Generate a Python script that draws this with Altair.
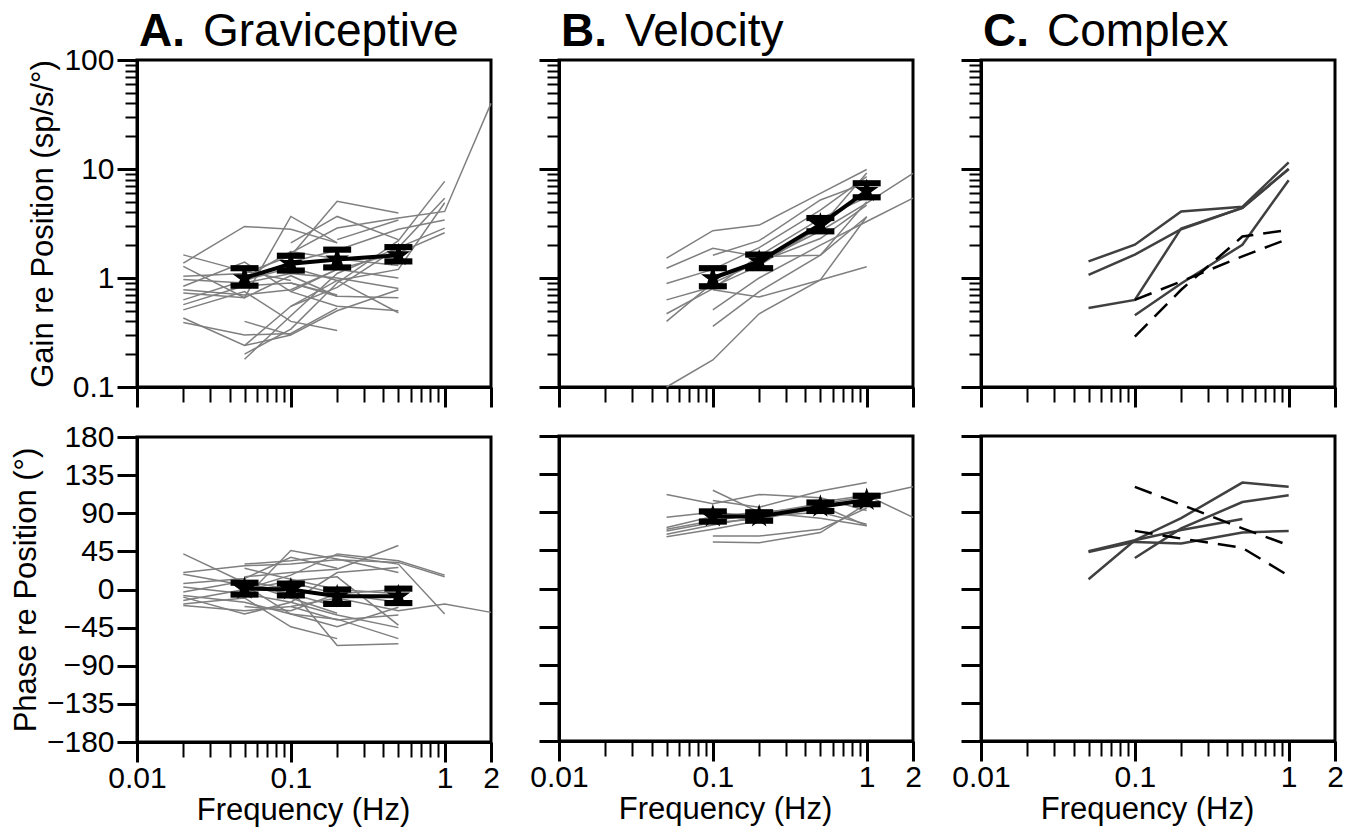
import altair as alt
import pandas as pd

# ---------------- data ----------------
FREQS_A = [0.02, 0.05, 0.1, 0.2, 0.5, 1, 2]
A_GAIN = [
    [1.63, 1.15, 0.95, None, None, None, None],
    [1.37, 2.97, 2.8, 2.1, None, None, None],
    [1.28, 0.66, 3.67, 2.1, None, None, None],
    [1.04, 1.1, 1.6, 5.05, 3.94, None, None],
    [0.97, 0.9, 1.1, 1.0, 0.8, None, None],
    [0.84, 1.4, 0.75, 0.55, 0.5, None, None],
    [0.78, 0.7, 0.78, 1.2, 1.7, 2.6, None],
    [0.73, 0.66, 1.05, 0.68, None, None, None],
    [0.63, 0.95, 1.25, 0.95, 0.48, None, None],
    [0.57, 0.85, 0.9, 0.7, None, None, None],
    [0.51, 0.75, 0.4, 0.33, None, None, None],
    [0.43, 0.24, 0.3, None, None, None, None],
    [0.39, 0.3, 0.31, 0.53, None, None, None],
    [None, 0.18, 0.45, 1.1, 1.9, 5.4, None],
    [None, 0.2, 0.34, 0.9, 2.2, 7.7, None],
    [None, 0.24, 0.55, 0.95, 1.2, 4.9, None],
    [None, 0.4, 0.3, 0.5, 0.78, None, None],
    [None, None, 1.7, 2.87, 3.55, 4.08, 40],
    [None, None, 2.1, 3.67, 2.25, None, None],
    [None, None, 0.9, 0.68, 0.66, None, None],
    [None, None, 1.4, 1.8, 2.8, 3.4, None],
    [None, None, 0.55, 0.82, 1.9, 2.87, None],
    [None, None, 0.75, 1.2, 1.0, None, None],
    [None, 1.0, 1.75, 1.5, 1.3, None, None],
    [None, None, None, 2.25, 3.4, None, None],
]
A_PHASE = [
    [42, 8, -10, -28, None, None, None],
    [20, 28, 30, 35, 32, 15, None],
    [18, 5, -5, -20, None, None, None],
    [7, 13, 38, 25, None, None, None],
    [3, -5, -15, -30, -45, None, None],
    [-3, 10, 0, -66, -64, None, None],
    [-7, -15, -29, -35, -58, None, None],
    [-9, -29, -15, 20, 26, None, None],
    [-13, 0, 17, 42, 34, 17, None],
    [-17, -10, -44, -58, None, None, None],
    [-19, -25, -20, -10, -25, -17, -27],
    [None, 30, 34, 40, 30, -29, None],
    [None, -10, 46, 36, 20, None, None],
    [None, 5, -29, -44, -21, None, None],
    [None, 0, 10, 15, -42, None, None],
    [None, 15, 20, 24, 52, None, None],
    [None, None, -20, -36, -30, None, None],
    [None, None, 8, -5, -15, None, None],
    [None, -20, -25, -5, 0, None, None],
    [None, 25, 12, 0, -5, None, None],
]
A_MEAN_FREQ = [0.05, 0.1, 0.2, 0.5]
A_GAIN_MEAN = [1.0, 1.35, 1.48, 1.62]
A_GAIN_LO = [0.85, 1.17, 1.25, 1.42]
A_GAIN_HI = [1.23, 1.6, 1.82, 1.92]
A_PHASE_MEAN = [1, 0, -8, -8]
A_PHASE_LO = [-6, -7, -17, -16]
A_PHASE_HI = [8, 7, 0, 1]

FREQS_B = [0.05, 0.1, 0.2, 0.5, 1, 2]
B_GAIN = [
    [1.52, 2.72, 3.06, 5.98, 9.9, None],
    [1.23, 1.87, 1.57, 1.62, 3.65, None],
    [0.89, 1.2, 1.9, 4.2, 8.5, None],
    [0.63, 0.83, 1.3, 2.96, 9.2, None],
    [0.47, 0.8, 1.6, 3.5, 5.5, None],
    [0.40, 0.9, 1.4, 2.3, 4.67, None],
    [0.1, 0.177, 0.47, 0.96, 3.65, None],
    [None, 0.78, 0.67, 0.96, 1.27, None],
    [None, 0.51, 1.0, 2.0, 3.3, 5.4],
    [None, 0.36, 0.75, 1.62, 5.0, None],
    [None, 1.62, 2.2, 5.2, 7.5, None],
    [None, 1.0, 1.4, 2.7, 4.87, 9.1],
]
B_PHASE = [
    [111, 100, 111, 107, 92, None],
    [84, 90, 85, 90, 76, None],
    [72, 85, 90, 96, 103, None],
    [70, 80, 88, 100, 108, 120],
    [68, 78, 82, 95, 105, None],
    [64, 75, 85, 98, 74, None],
    [61, 70, 80, 102, 110, 84],
    [None, 116, 90, 83, 74, None],
    [None, 62, 62, 70, 95, None],
    [None, 55, 54, 66, 100, None],
    [None, 104, 96, 115, 125, None],
]
B_MEAN_FREQ = [0.1, 0.2, 0.5, 1]
B_GAIN_MEAN = [1.0, 1.42, 3.1, 6.3]
B_GAIN_LO = [0.84, 1.23, 2.68, 5.5]
B_GAIN_HI = [1.23, 1.64, 3.55, 7.4]
B_PHASE_MEAN = [85, 85, 96.5, 104.5]
B_PHASE_LO = [79, 80, 91.5, 99.5]
B_PHASE_HI = [91, 90, 101.5, 109.5]

FREQS_C = [0.05, 0.1, 0.2, 0.5, 1]
C_GAIN_SOLID = [
    [1.42, 2.02, 4.07, 4.5, 11.5],
    [1.07, 1.64, 2.8, 4.4, 10.0],
    [0.53, 0.63, 2.85, 4.4, 10.0],
    [None, 0.455, 0.89, 2.02, 7.9],
]
C_GAIN_DASHED = [
    [None, 0.63, 0.93, 1.58, 2.3],
    [None, 0.29, 0.78, 2.4, 2.77],
]
C_PHASE_SOLID = [
    [11, 57, 83, 125, 120],
    [44, 57, 69, 82, None],
    [43, 55, 53, 66, 68],
    [None, 36, 71, 102, 110],
]
C_PHASE_DASHED = [
    [None, 120, 99, 71, 51],
    [None, 68, 59, 48, 15],
]

TITLES = [("A.", "Graviceptive"), ("B.", "Velocity"), ("C.", "Complex")]

X_MAJOR = [0.01, 0.1, 1, 2]
X_MINOR = [0.02, 0.03, 0.04, 0.05, 0.06, 0.07, 0.08, 0.09,
           0.2, 0.3, 0.4, 0.5, 0.6, 0.7, 0.8, 0.9]
YG_MAJOR = [0.1, 1, 10, 100]
YG_MINOR = [0.2, 0.3, 0.4, 0.5, 0.6, 0.7, 0.8, 0.9,
            2, 3, 4, 5, 6, 7, 8, 9, 20, 30, 40, 50, 60, 70, 80, 90]
YP_MAJOR = [-180, -135, -90, -45, 0, 45, 90, 135, 180]

FONT = "Liberation Sans"
W = 354
H_TOP = 327
H_BOT = 305

# custom symbol paths (unit box -1..1)
STAR = ("M0,-1L0.225,-0.309L0.951,-0.309L0.363,0.118L0.588,0.809L0,0.382"
        "L-0.588,0.809L-0.363,0.118L-0.951,-0.309L-0.225,-0.309Z")
CAP = "M-1,-0.22L1,-0.22L1,0.22L-1,0.22Z"


def lines_df(freqs, rows):
    recs = []
    for i, row in enumerate(rows):
        for f, v in zip(freqs, row):
            if v is not None:
                recs.append({"freq": f, "val": v, "line": i})
    return pd.DataFrame(recs)


def mean_df(freqs, mean, lo, hi):
    return pd.DataFrame({"freq": freqs, "val": mean, "lo": lo, "hi": hi})


XS = alt.Scale(type="log", domain=[0.01, 2], nice=False)
YGS = alt.Scale(type="log", domain=[0.1, 100], nice=False)
YPS = alt.Scale(domain=[-180, 180], nice=False)


def x_major(labels):
    if labels:
        return alt.Axis(orient="bottom", values=X_MAJOR, format="~g", tickSize=20,
                        tickWidth=3, labelFlush=False, labelOverlap=False,
                        labelPadding=1, title="Frequency (Hz)", titleX=166,
                        titlePadding=2)
    return alt.Axis(orient="bottom", values=X_MAJOR, labels=False, tickSize=20,
                    tickWidth=3, title=None)


X_MINOR_AXIS = alt.Axis(orient="bottom", values=X_MINOR, labels=False, tickSize=15,
                        tickWidth=2, domain=False, title=None)


def y_major(gain, labels):
    vals = YG_MAJOR if gain else YP_MAJOR
    title = "Gain re Position (sp/s/°)" if gain else "Phase re Position (°)"
    fmt = "~g" if gain else "d"
    if labels:
        return alt.Axis(orient="left", values=vals, format=fmt, tickSize=20,
                        tickWidth=3, labelOverlap=False, labelFlush=False,
                        labelPadding=3, title=title, titlePadding=4)
    return alt.Axis(orient="left", values=vals, labels=False, tickSize=20,
                    tickWidth=3, title=None)


Y_MINOR_AXIS = alt.Axis(orient="left", values=YG_MINOR, labels=False, tickSize=12,
                        tickWidth=2, domain=False, title=None)


def panel(gain, first_col, bottom, lines, means=None, dashed=None,
          solid_color="#7f7f7f", solid_width=1.5, title=None):
    ys = YGS if gain else YPS
    h = H_TOP if gain else H_BOT
    minor_y = Y_MINOR_AXIS if gain else None
    layers = [alt.Chart(lines).mark_line(
        color=solid_color, strokeWidth=solid_width).encode(
        x=alt.X("freq:Q", scale=XS, axis=x_major(bottom)),
        y=alt.Y("val:Q", scale=ys, axis=y_major(gain, first_col)),
        detail="line:N",
    )]
    if dashed is not None:
        layers.append(alt.Chart(dashed).mark_line(
            color="black", strokeWidth=2.5, strokeDash=[18, 10]).encode(
            x=alt.X("freq:Q", scale=XS, axis=X_MINOR_AXIS),
            y=alt.Y("val:Q", scale=ys, axis=minor_y),
            detail="line:N",
        ))
    if means is not None:
        layers.append(alt.Chart(means).mark_line(color="black", strokeWidth=4).encode(
            x=alt.X("freq:Q", scale=XS, axis=X_MINOR_AXIS),
            y=alt.Y("val:Q", scale=ys, axis=minor_y),
        ))
        layers.append(alt.Chart(means).mark_rule(color="black", strokeWidth=4).encode(
            x=alt.X("freq:Q", scale=XS, axis=None),
            y=alt.Y("lo:Q", scale=ys, axis=None),
            y2="hi:Q",
        ))
        for col in ["lo", "hi"]:
            layers.append(alt.Chart(means).mark_point(
                shape=CAP, filled=True, color="black", size=784, opacity=1,
                strokeWidth=0).encode(
                x=alt.X("freq:Q", scale=XS, axis=None),
                y=alt.Y(f"{col}:Q", scale=ys, axis=None),
            ))
        layers.append(alt.Chart(means).mark_point(
            shape=STAR, filled=True, color="black", size=620, opacity=1,
            strokeWidth=0).encode(
            x=alt.X("freq:Q", scale=XS, axis=None),
            y=alt.Y("val:Q", scale=ys, axis=None),
        ))
    if title is not None:
        tdf = pd.DataFrame({"a": [title[0]], "b": [title[1]]})
        layers.append(alt.Chart(tdf).mark_text(
            align="left", baseline="alphabetic", fontSize=46, fontWeight="bold",
            font=FONT, color="black").encode(
            x=alt.value(2), y=alt.value(-14), text="a:N"))
        layers.append(alt.Chart(tdf).mark_text(
            align="left", baseline="alphabetic", fontSize=46,
            font=FONT, color="black").encode(
            x=alt.value(66), y=alt.value(-14), text="b:N"))
    return alt.layer(*layers).resolve_axis(x="independent", y="independent").properties(
        width=W, height=h)


colA = alt.vconcat(
    panel(True, True, False, lines_df(FREQS_A, A_GAIN),
          means=mean_df(A_MEAN_FREQ, A_GAIN_MEAN, A_GAIN_LO, A_GAIN_HI), title=TITLES[0]),
    panel(False, True, True, lines_df(FREQS_A, A_PHASE),
          means=mean_df(A_MEAN_FREQ, A_PHASE_MEAN, A_PHASE_LO, A_PHASE_HI)),
    spacing=10,
)
colB = alt.vconcat(
    panel(True, False, False, lines_df(FREQS_B, B_GAIN),
          means=mean_df(B_MEAN_FREQ, B_GAIN_MEAN, B_GAIN_LO, B_GAIN_HI), title=TITLES[1]),
    panel(False, False, True, lines_df(FREQS_B, B_PHASE),
          means=mean_df(B_MEAN_FREQ, B_PHASE_MEAN, B_PHASE_LO, B_PHASE_HI)),
    spacing=23,
)
colC = alt.vconcat(
    panel(True, False, False, lines_df(FREQS_C, C_GAIN_SOLID),
          dashed=lines_df(FREQS_C, C_GAIN_DASHED), solid_color="#404040",
          solid_width=2.5, title=TITLES[2]),
    panel(False, False, True, lines_df(FREQS_C, C_PHASE_SOLID),
          dashed=lines_df(FREQS_C, C_PHASE_DASHED), solid_color="#404040",
          solid_width=2.5),
    spacing=23,
)

chart = alt.hconcat(colA, colB, colC, spacing=27).properties(
    padding={"left": 0, "top": -1, "right": 5, "bottom": 0}, background="white"
).configure_view(
    stroke="black", strokeWidth=3
).configure_axis(
    domainColor="black", domainWidth=3, tickColor="black", labelColor="black",
    titleColor="black", labelFont=FONT, titleFont=FONT, labelFontSize=30,
    titleFontSize=31, titleFontWeight="normal", grid=False,
)

chart.save("out.html", embed_options={"renderer": "svg", "actions": False})
